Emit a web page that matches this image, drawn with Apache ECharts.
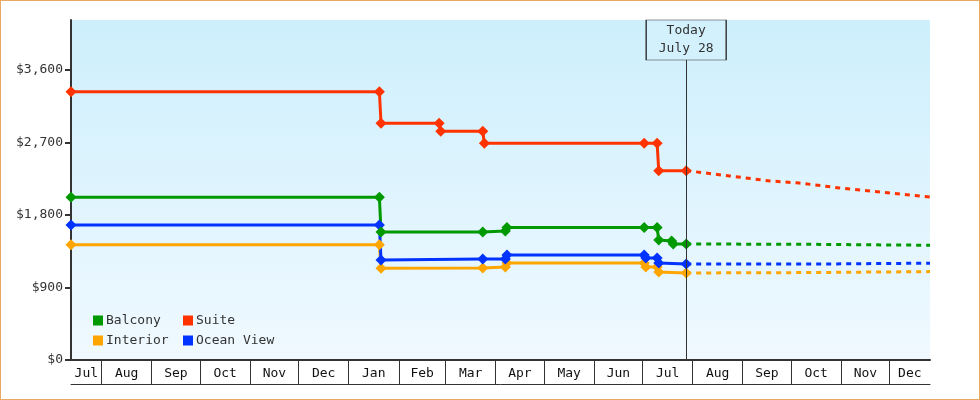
<!DOCTYPE html>
<html>
<head>
<meta charset="utf-8">
<script src="https://cdn.jsdelivr.net/npm/echarts@6/dist/echarts.min.js"></script>
<style>
html, body { margin: 0; padding: 0; background: #fff; }
#wrap { position: relative; width: 980px; height: 400px; }
#chart { width: 980px; height: 400px; }
#frame { position: absolute; left: 0; top: 0; width: 980px; height: 400px; box-sizing: border-box; border: 1px solid #e9a864; pointer-events: none; }
</style>
</head>
<body>
<div id="wrap"><div id="chart"></div><div id="frame"></div></div>
<script>
// price history per cabin type [date, price]
const suite = [
    ['2023-07-13', 3330], ['2024-01-20', 3330], ['2024-01-21', 2940], ['2024-02-26', 2940],
    ['2024-02-27', 2840], ['2024-03-24', 2840], ['2024-03-25', 2690], ['2024-07-02', 2690],
    ['2024-07-10', 2690], ['2024-07-11', 2350], ['2024-07-28', 2350]
];
const balcony = [
    ['2023-07-13', 2020], ['2024-01-20', 2020], ['2024-01-21', 1590], ['2024-03-24', 1590],
    ['2024-04-07', 1600], ['2024-04-08', 1645], ['2024-07-02', 1645], ['2024-07-10', 1645],
    ['2024-07-11', 1490], ['2024-07-19', 1477], ['2024-07-20', 1440], ['2024-07-28', 1440]
];
const oceanView = [
    ['2023-07-13', 1675], ['2024-01-20', 1675], ['2024-01-21', 1240], ['2024-03-24', 1254],
    ['2024-04-07', 1254], ['2024-04-08', 1303], ['2024-07-02', 1303], ['2024-07-03', 1266],
    ['2024-07-10', 1266], ['2024-07-11', 1204], ['2024-07-28', 1192]
];
const interior = [
    ['2023-07-13', 1430], ['2024-01-20', 1430], ['2024-01-21', 1140], ['2024-03-24', 1142],
    ['2024-04-07', 1155], ['2024-04-08', 1204], ['2024-07-02', 1204], ['2024-07-03', 1155],
    ['2024-07-10', 1155], ['2024-07-11', 1092], ['2024-07-28', 1080]
];
// forecast (dashed)
const suiteFc = [
    ['2024-07-28', 2350], ['2024-08-24', 2284], ['2024-09-18', 2222], ['2024-10-06', 2197],
    ['2024-10-31', 2135], ['2024-11-25', 2086], ['2024-12-26', 2023]
];
const balconyFc = [['2024-07-28', 1440], ['2024-10-11', 1436], ['2024-10-12', 1424], ['2024-12-26', 1424]];
const oceanViewFc = [['2024-07-28', 1192], ['2024-10-11', 1190], ['2024-10-12', 1202], ['2024-12-26', 1202]];
const interiorFc = [['2024-07-28', 1080], ['2024-10-11', 1085], ['2024-10-12', 1097], ['2024-12-26', 1097]];

const yTicks = [0, 900, 1800, 2700, 3600];
const monthTicks = [
    '2023-08-01', '2023-09-01', '2023-10-01', '2023-11-01', '2023-12-01', '2024-01-01',
    '2024-02-01', '2024-03-01', '2024-04-01', '2024-05-01', '2024-06-01', '2024-07-01',
    '2024-08-01', '2024-09-01', '2024-10-01', '2024-11-01', '2024-12-01'
];
const monthLabels = ['Jul', 'Aug', 'Sep', 'Oct', 'Nov', 'Dec', 'Jan', 'Feb', 'Mar', 'Apr',
    'May', 'Jun', 'Jul', 'Aug', 'Sep', 'Oct', 'Nov', 'Dec'];
const startDate = '2023-07-13';
const endDate = '2024-12-26';
const todayDate = '2024-07-28';
const yMax = 4220;

const font = '"DejaVu Sans Mono", monospace';
const colors = { Balcony: '#009900', Suite: '#ff3300', Interior: '#ffa500', 'Ocean View': '#0033ff' };

const toTime = s => new Date(s + 'T00:00:00').getTime();
const toPoints = arr => arr.map(d => [toTime(d[0]), d[1]]);
const bounds = [startDate].concat(monthTicks, [endDate]).map(toTime);
const labelPos = [];
const labelByValue = {};
for (let i = 0; i < bounds.length - 1; i++) {
    const mid = Math.round((bounds[i] + bounds[i + 1]) / 2);
    labelPos.push(mid);
    labelByValue[mid] = monthLabels[i];
}

const chart = echarts.init(document.getElementById('chart'));

function solid(name, data) {
    return {
        name: name, type: 'line', data: toPoints(data),
        symbol: 'diamond', symbolSize: 11, showSymbol: true,
        lineStyle: { width: 3, color: colors[name] },
        itemStyle: { color: colors[name] },
        z: 3
    };
}
function dashed(name, data) {
    return {
        name: name + ' forecast', type: 'line', data: toPoints(data),
        symbol: 'none',
        lineStyle: { width: 3, color: colors[name], type: [5, 5] },
        z: 2
    };
}

const suiteSeries = solid('Suite', suite);
suiteSeries.markLine = {
    silent: true, symbol: ['none', 'none'], label: { show: false },
    lineStyle: { color: '#333', width: 1, type: 'solid' },
    data: [{ xAxis: toTime(todayDate) }]
};
suiteSeries.markPoint = {
    silent: true, symbol: 'rect', symbolSize: [80, 40], symbolOffset: [0, 20],
    itemStyle: { color: '#d3f1fd', borderColor: '#333', borderWidth: 1 },
    label: { show: true, position: 'inside', formatter: 'Today\nJuly 28', color: '#333', fontFamily: font, fontSize: 13, lineHeight: 18 },
    data: [{ coord: [toTime(todayDate), yMax] }]
};

const legendBase = {
    orient: 'vertical', itemWidth: 10, itemHeight: 10, itemGap: 7, padding: 0,
    icon: 'rect', selectedMode: false,
    textStyle: { fontFamily: font, fontSize: 13, color: '#333', padding: [0, 0, 0, -2] }
};

const option = {
    animation: false,
    color: [colors.Interior, colors['Ocean View'], colors.Balcony, colors.Suite],
    legend: [
        Object.assign({}, legendBase, { left: 93, top: 314, data: ['Balcony', 'Interior'] }),
        Object.assign({}, legendBase, { left: 183, top: 314, data: ['Suite', 'Ocean View'] })
    ],
    grid: {
        left: 71, right: 50, top: 20, bottom: 40, show: true, borderWidth: 0,
        backgroundColor: new echarts.graphic.LinearGradient(0, 0, 0, 1, [
            { offset: 0, color: '#cdeffc' },
            { offset: 1, color: '#f0f9ff' }
        ])
    },
    xAxis: [
        {
            type: 'value', min: toTime(startDate), max: toTime(endDate), scale: true,
            axisLine: { show: true, lineStyle: { color: '#333', width: 2 } },
            axisTick: { show: true, customValues: monthTicks.map(toTime), length: 24, lineStyle: { color: '#333', width: 1 } },
            axisLabel: {
                customValues: labelPos, margin: 7, color: '#111', fontFamily: font, fontSize: 13,
                formatter: v => labelByValue[v] || ''
            },
            splitLine: { show: false }
        },
        {
            type: 'value', min: toTime(startDate), max: toTime(endDate), scale: true, position: 'bottom', offset: 24,
            axisLine: { show: true, lineStyle: { color: '#333', width: 1 } },
            axisTick: { show: false }, axisLabel: { show: false }, splitLine: { show: false }
        }
    ],
    yAxis: {
        type: 'value', min: 0, max: yMax,
        axisLine: { show: true, lineStyle: { color: '#333', width: 2 } },
        axisTick: { show: true, customValues: yTicks, length: 6, lineStyle: { color: '#333', width: 2 } },
        axisLabel: {
            customValues: yTicks, margin: 8, color: '#333', fontFamily: font, fontSize: 13,
            formatter: v => '$' + v.toLocaleString('en-US')
        },
        splitLine: { show: false }
    },
    series: [
        dashed('Interior', interiorFc),
        dashed('Ocean View', oceanViewFc),
        dashed('Balcony', balconyFc),
        dashed('Suite', suiteFc),
        solid('Interior', interior),
        solid('Ocean View', oceanView),
        solid('Balcony', balcony),
        suiteSeries
    ]
};
chart.setOption(option);
</script>
</body>
</html>
